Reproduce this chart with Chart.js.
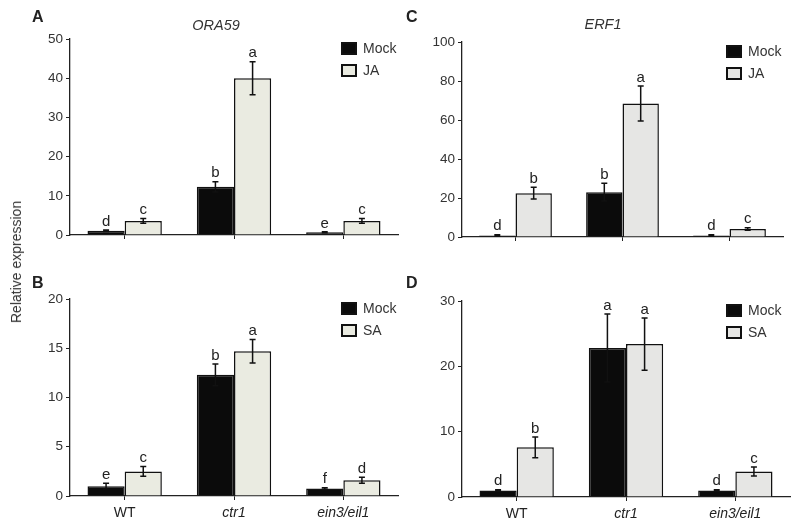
<!DOCTYPE html>
<html>
<head>
<meta charset="utf-8">
<script src="https://cdn.jsdelivr.net/npm/chart.js@4/dist/chart.umd.min.js"></script>
<style>
  body { margin: 0; background: #fff; }
  #wrap { position: relative; width: 800px; height: 524px; font-family: "Liberation Sans", Arial, sans-serif; color: #222; }
  canvas { position: absolute; }
  .lbl { position: absolute; white-space: nowrap; }
  .panel { font-weight: bold; font-size: 16px; }
  .title { font-style: italic; font-size: 14.5px; color: #333; transform: translateX(-50%); }
  #ytitle { position: absolute; left: 16px; top: 262px; font-size: 14px; color: #333;
            transform: translate(-50%, -50%) rotate(-90deg); white-space: nowrap; }
</style>
</head>
<body>
<div id="wrap">
  <canvas id="cA" width="400" height="262" style="left:0;top:0"></canvas>
  <canvas id="cC" width="400" height="262" style="left:400px;top:0"></canvas>
  <canvas id="cB" width="400" height="262" style="left:0;top:262px"></canvas>
  <canvas id="cD" width="400" height="262" style="left:400px;top:262px"></canvas>
  <div class="lbl panel" style="left:32px;top:8px">A</div>
  <div class="lbl panel" style="left:406px;top:8px">C</div>
  <div class="lbl panel" style="left:32px;top:274px">B</div>
  <div class="lbl panel" style="left:406px;top:274px">D</div>
  <div class="lbl title" style="left:216px;top:17px">ORA59</div>
  <div class="lbl title" style="left:603px;top:16px">ERF1</div>
  <div id="ytitle">Relative expression</div>
</div>
<script>
// genotypes on the x axis
const genotypes = ['WT', 'ctr1', 'ein3/eil1'];

// A: ORA59, Mock vs JA
const oraJaMock = [1.1, 12.3, 0.7];
const oraJaMockErr = [0.2, 1.3, 0.1];
const oraJa = [3.6, 40.0, 3.6];
const oraJaErr = [0.6, 4.2, 0.6];
const oraJaLetters = [['d', 'b', 'e'], ['c', 'a', 'c']];

// B: ORA59, Mock vs SA
const oraSaMock = [1.0, 12.3, 0.75];
const oraSaMockErr = [0.3, 1.1, 0.1];
const oraSa = [2.5, 14.7, 1.6];
const oraSaErr = [0.5, 1.2, 0.3];
const oraSaLetters = [['e', 'b', 'f'], ['c', 'a', 'd']];

// C: ERF1, Mock vs JA
const erfJaMock = [0.8, 23.0, 0.8];
const erfJaMockErr = [0.3, 4.6, 0.3];
const erfJa = [22.5, 68.5, 4.1];
const erfJaErr = [3.0, 9.0, 0.6];
const erfJaLetters = [['d', 'b', 'd'], ['b', 'a', 'c']];

// D: ERF1, Mock vs SA
const erfSaMock = [1.0, 22.8, 1.0];
const erfSaMockErr = [0.1, 5.2, 0.1];
const erfSa = [7.6, 23.4, 3.9];
const erfSaErr = [1.6, 4.0, 0.7];
const erfSaLetters = [['d', 'a', 'd'], ['b', 'a', 'c']];

const INK = '#111';
const TXT = '#333';
const FONT = '"Liberation Sans", Arial, sans-serif';

// error bars + significance letters, drawn from the scales
const errLetters = {
  id: 'errLetters',
  afterDatasetsDraw(chart) {
    const ctx = chart.ctx;
    const y = chart.scales.y;
    chart.data.datasets.forEach((ds, di) => {
      const meta = chart.getDatasetMeta(di);
      meta.data.forEach((bar, i) => {
        const v = ds.data[i], e = ds.err[i];
        const yTop = y.getPixelForValue(v + e);
        const yBot = y.getPixelForValue(Math.max(v - e, 0));
        ctx.save();
        ctx.strokeStyle = INK;
        ctx.lineWidth = 1.5;
        ctx.beginPath();
        ctx.moveTo(bar.x, yTop); ctx.lineTo(bar.x, yBot);
        ctx.moveTo(bar.x - 3, yTop); ctx.lineTo(bar.x + 3, yTop);
        ctx.moveTo(bar.x - 3, yBot); ctx.lineTo(bar.x + 3, yBot);
        ctx.stroke();
        ctx.fillStyle = '#222';
        ctx.font = '15px ' + FONT;
        ctx.textAlign = 'center';
        ctx.textBaseline = 'bottom';
        ctx.fillText(ds.letters[i], bar.x, Math.min(yTop, y.getPixelForValue(v)) - 1);
        ctx.restore();
      });
    });
  }
};

// legend in the upper right of the plot
const boxLegend = {
  id: 'boxLegend',
  afterDraw(chart, args, opts) {
    const ctx = chart.ctx;
    const a = chart.chartArea;
    const x = a.right - opts.fromRight;
    chart.data.datasets.forEach((ds, i) => {
      const yy = a.top + opts.dy + i * 22;
      ctx.save();
      ctx.fillStyle = ds.backgroundColor;
      ctx.fillRect(x, yy, 16, 13);
      ctx.strokeStyle = INK;
      ctx.lineWidth = 2;
      ctx.strokeRect(x + 1, yy + 1, 14, 11);
      ctx.fillStyle = TXT;
      ctx.font = '14px ' + FONT;
      ctx.textAlign = 'left';
      ctx.textBaseline = 'middle';
      ctx.fillText(ds.label, x + 22, yy + 7);
      ctx.restore();
    });
  }
};

function makePanel(id, cfg) {
  const datasets = [
    { label: 'Mock', data: cfg.mock, err: cfg.mockErr, letters: cfg.letters[0],
      backgroundColor: '#0b0b0b', borderColor: INK, borderWidth: 1.5 },
    { label: cfg.treat, data: cfg.treated, err: cfg.treatedErr, letters: cfg.letters[1],
      backgroundColor: cfg.fill, borderColor: INK, borderWidth: 1.5 }
  ];
  new Chart(document.getElementById(id), {
    type: 'bar',
    data: { labels: genotypes, datasets },
    plugins: [errLetters, boxLegend],
    options: {
      responsive: false,
      animation: false,
      layout: { padding: { left: 0, top: cfg.top, right: cfg.right, bottom: 0 } },
      categoryPercentage: 0.68,
      barPercentage: 1.0,
      plugins: {
        legend: { display: false },
        tooltip: { enabled: false },
        boxLegend: { fromRight: cfg.legendRight, dy: 3 }
      },
      scales: {
        x: {
          afterFit: s => { s.height = cfg.xh; },
          border: { color: '#222', width: 1.3 },
          grid: { display: true, offset: false, drawOnChartArea: false, tickLength: 4, color: '#222' },
          ticks: {
            display: cfg.showX,
            padding: 5,
            color: '#222',
            font: (c) => ({ family: FONT, size: 14, style: c.index === 0 ? 'normal' : 'italic' })
          }
        },
        y: {
          min: 0, max: cfg.max,
          afterFit: s => { s.width = cfg.yw; },
          ticks: { stepSize: cfg.step, color: TXT, font: { family: FONT, size: 13.5 }, padding: 3 },
          border: { color: '#222', width: 1.3 },
          grid: { display: true, drawOnChartArea: false, tickLength: 4, color: '#222' }
        }
      }
    }
  });
}

makePanel('cA', { mock: oraJaMock, mockErr: oraJaMockErr, treated: oraJa, treatedErr: oraJaErr,
  letters: oraJaLetters, treat: 'JA', fill: '#eaebe1', max: 50, step: 10,
  top: 39, right: 2, yw: 70, xh: 27, showX: false, legendRight: 57 });
makePanel('cC', { mock: erfJaMock, mockErr: erfJaMockErr, treated: erfJa, treatedErr: erfJaErr,
  letters: erfJaLetters, treat: 'JA', fill: '#e6e6e4', max: 100, step: 20,
  top: 42, right: 17, yw: 62, xh: 25, showX: false, legendRight: 57 });
makePanel('cB', { mock: oraSaMock, mockErr: oraSaMockErr, treated: oraSa, treatedErr: oraSaErr,
  letters: oraSaLetters, treat: 'SA', fill: '#eaebe1', max: 20, step: 5,
  top: 37, right: 2, yw: 70, xh: 28, showX: true, legendRight: 57 });
makePanel('cD', { mock: erfSaMock, mockErr: erfSaMockErr, treated: erfSa, treatedErr: erfSaErr,
  letters: erfSaLetters, treat: 'SA', fill: '#e6e6e4', max: 30, step: 10,
  top: 39, right: 10, yw: 62, xh: 27, showX: true, legendRight: 64 });
</script>
</body>
</html>
